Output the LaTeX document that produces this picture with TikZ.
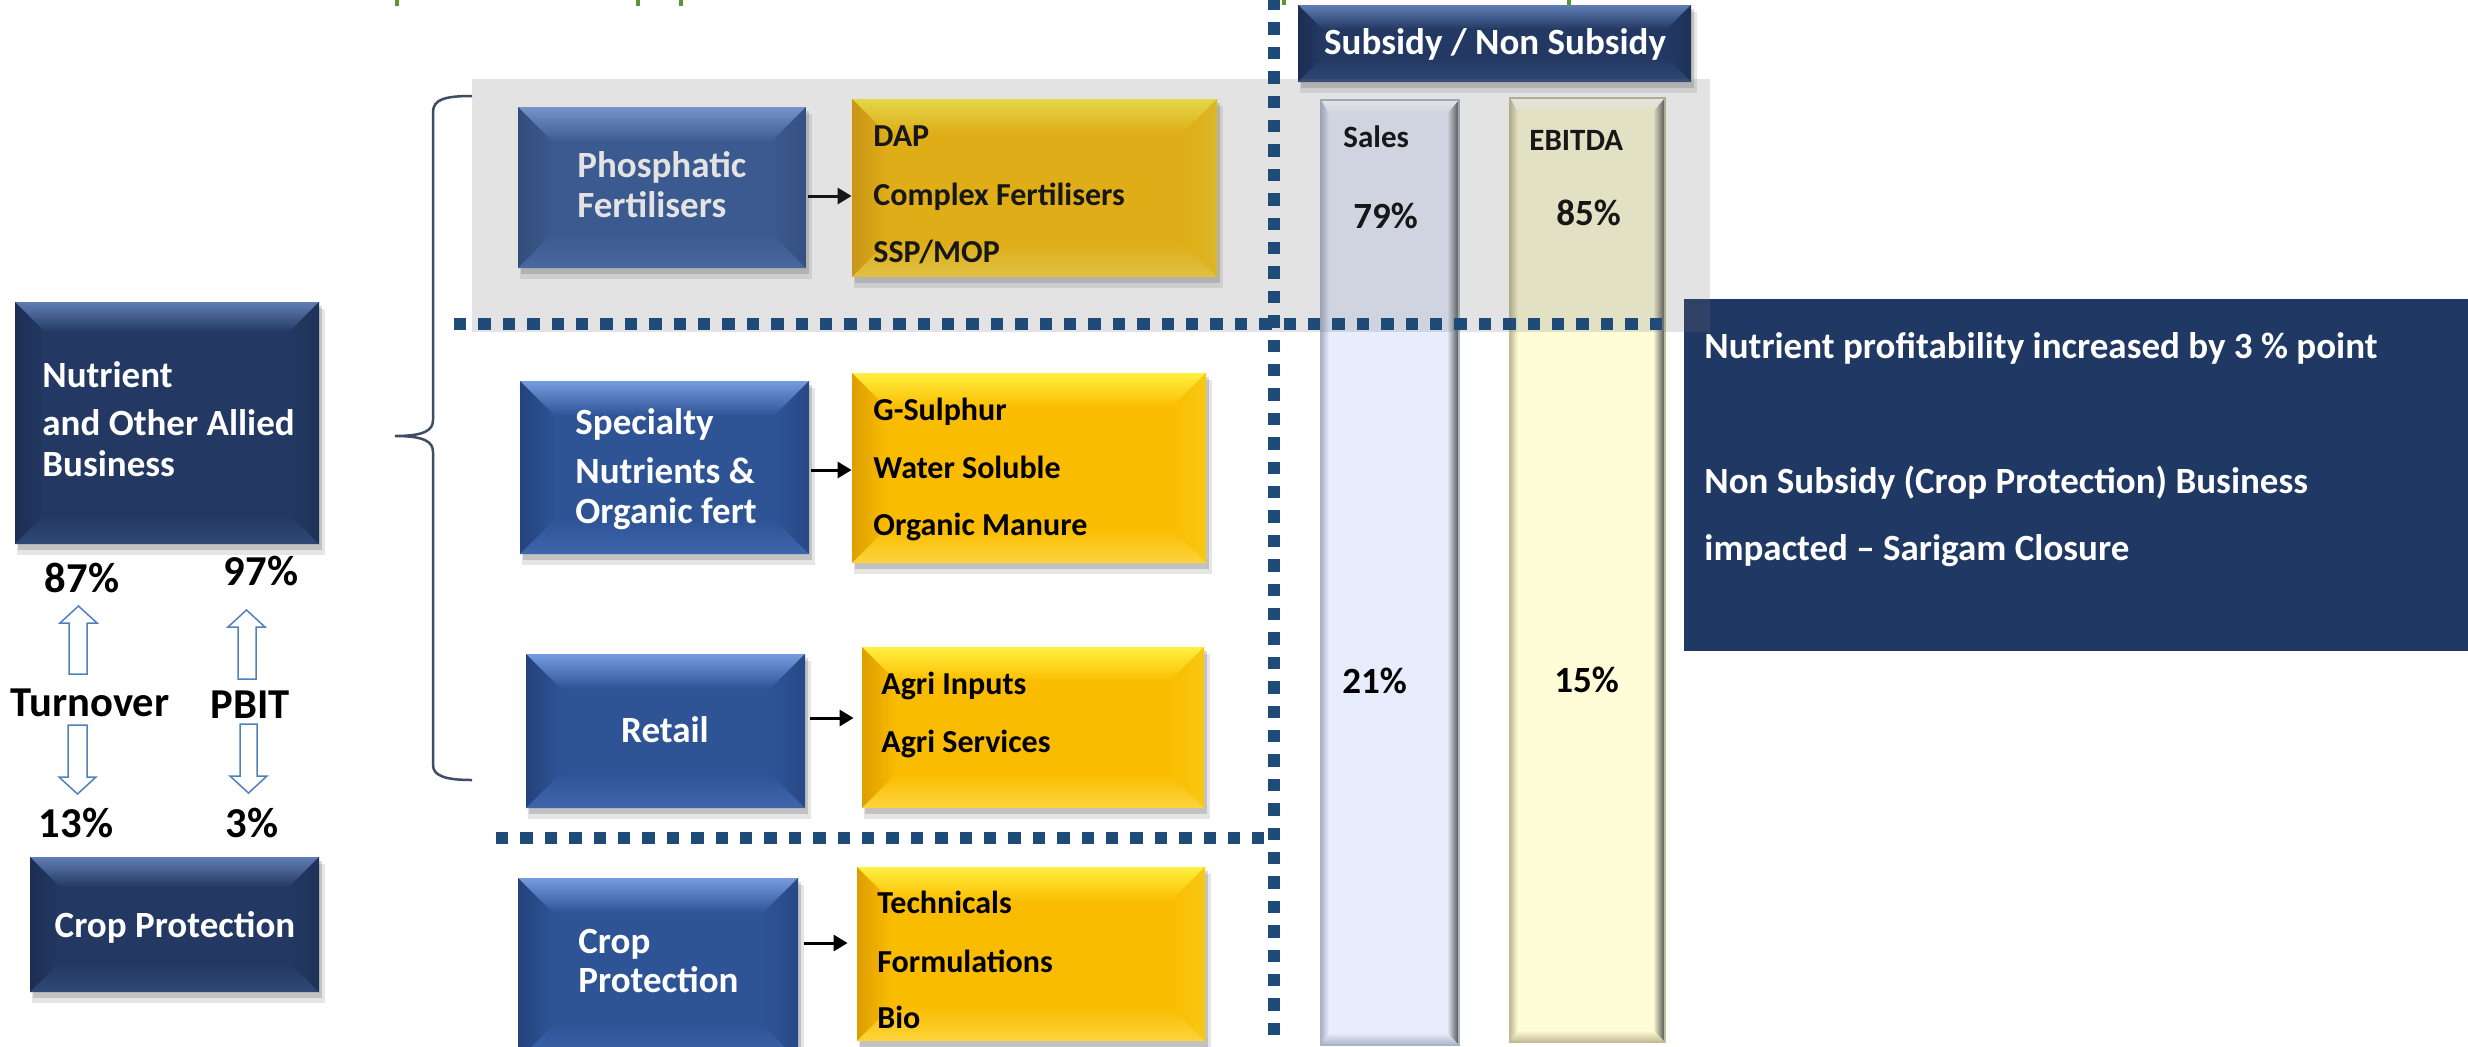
\documentclass[tikz,border=0pt]{standalone}
\usepackage{fontspec}
\setmainfont{Carlito}
\usetikzlibrary{fit,arrows.meta,calc}
\definecolor{blubase}{RGB}{46,84,150}
\definecolor{blutop}{RGB}{118,156,224}
\definecolor{bluleft}{RGB}{36,66,124}
\definecolor{bluright}{RGB}{40,72,134}
\definecolor{blubot}{RGB}{62,102,172}
\definecolor{navbase}{RGB}{35,57,99}
\definecolor{navtop}{RGB}{96,126,180}
\definecolor{navleft}{RGB}{28,46,82}
\definecolor{navright}{RGB}{30,50,88}
\definecolor{navbot}{RGB}{46,72,118}
\definecolor{yelbase}{RGB}{250,188,0}
\definecolor{yeltop}{RGB}{255,240,64}
\definecolor{yelleft}{RGB}{222,158,0}
\definecolor{yelright}{RGB}{248,200,20}
\definecolor{yelbot}{RGB}{252,212,60}
\definecolor{panelcol}{RGB}{32,56,100}
\definecolor{dotblue}{RGB}{31,75,120}
\definecolor{bracecol}{RGB}{62,76,100}
\definecolor{arrowblue}{RGB}{79,129,189}
\definecolor{salesfill}{RGB}{231,237,252}
\definecolor{salesedge}{RGB}{170,178,198}
\definecolor{ebitfill}{RGB}{255,253,215}
\definecolor{ebitedge}{RGB}{196,188,150}
\definecolor{greenmark}{RGB}{90,150,50}
\newcommand\bevelbox[7]{%
  \fill[black,opacity=.10] (#2+2,#3+7) rectangle (#4+6,#5+11);
  \fill[black,opacity=.15] (#2+3,#3+4) rectangle (#4+3,#5+6);
  \fill[#6base] (#2,#3) rectangle (#4,#5);
  \shade[top color=#6top,bottom color=#6base] (#2,#3) -- (#4,#3) -- (#4-#7,#3+#7) -- (#2+#7,#3+#7) -- cycle;
  \shade[left color=#6left,right color=#6base] (#2,#3) -- (#2+#7,#3+#7) -- (#2+#7,#5-#7) -- (#2,#5) -- cycle;
  \shade[left color=#6base,right color=#6right] (#4,#3) -- (#4-#7,#3+#7) -- (#4-#7,#5-#7) -- (#4,#5) -- cycle;
  \shade[top color=#6base,bottom color=#6bot] (#2,#5) -- (#2+#7,#5-#7) -- (#4-#7,#5-#7) -- (#4,#5) -- cycle;
  \node[fit={(#2,#3) (#4,#5)},inner sep=0pt] (#1) {};
}
\newcommand\barcol[7]{%
  \fill[#6] (#2,#3) rectangle (#4,#5);
  \shade[top color=white,bottom color=#6] (#2,#3) -- (#4,#3) -- (#4-12,#3+14) -- (#2+8,#3+14) -- cycle;
  \shade[left color=#7,right color=#6] (#2,#3) -- (#2+8,#3+14) -- (#2+8,#5-12) -- (#2,#5) -- cycle;
  \shade[left color=#6,right color=black!70] (#4,#3) -- (#4-12,#3+14) -- (#4-12,#5-12) -- (#4,#5) -- cycle;
  \shade[top color=#6,bottom color=#7] (#2,#5) -- (#2+8,#5-12) -- (#4-12,#5-12) -- (#4,#5) -- cycle;
  \draw[#7,line width=0.6pt] (#2,#3) rectangle (#4,#5);
  \node[fit={(#2,#3) (#4,#5)},inner sep=0pt] (#1) {};
}
\tikzset{
  wt/.style={text=white,inner sep=0pt,font=\fontsize{18.5pt}{22pt}\selectfont\bfseries},
  bk/.style={text=black,inner sep=0pt,font=\fontsize{16pt}{19pt}\selectfont\bfseries},
  lab/.style={text=black,inner sep=0pt,font=\fontsize{21.3pt}{25pt}\selectfont\bfseries},
  bartxt/.style={text=black,inner sep=0pt,font=\fontsize{15.5pt}{18pt}\selectfont\bfseries},
  barpct/.style={text=black,inner sep=0pt,font=\fontsize{18.5pt}{22pt}\selectfont\bfseries},
  blockarrow/.style={draw=arrowblue,fill=white,line width=0.75pt,line join=miter},
  conn/.style={black,line width=1.5pt,-{Triangle[length=7pt,width=8pt]}},
  dotln/.style={dotblue,line width=6pt,dash pattern=on 6.2pt off 6pt},
  bracestyle/.style={bracecol,line width=1.25pt}
}
\begin{document}
\begin{tikzpicture}[x=0.5pt,y=-0.5pt]
\useasboundingbox (0,0) rectangle (2468,1046);
\fill[white] (0,0) rectangle (2468,1046);
% green fragments of cut-off title
\fill[greenmark] (395,0) rectangle (399,6);
\fill[greenmark] (636,0) rectangle (640,6);
\fill[greenmark] (679,0) rectangle (683,6);
\fill[greenmark] (1282,0) rectangle (1286,5);
\fill[greenmark] (1567,0) rectangle (1571,6);
% right panel
\fill[panelcol] (1684,299) rectangle (2468,651);
\node[fit={(1684,299) (2468,651)},inner sep=0pt] (panel) {};
% bars
\barcol{sales}{1321}{100}{1459}{1045}{salesfill}{salesedge}
\barcol{ebitda}{1510}{98}{1665}{1042}{ebitfill}{ebitedge}
% left boxes
\bevelbox{nutrient}{15}{302}{319}{544}{nav}{30}
\bevelbox{cropL}{30}{857}{319}{992}{nav}{30}
% header
\bevelbox{header}{1298}{5}{1691}{82}{nav}{24}
% middle boxes
\bevelbox{phos}{518}{107}{806}{268}{blu}{35}
\bevelbox{yel1}{852}{99}{1217}{277}{yel}{35}
\bevelbox{spec}{520}{381}{809}{554}{blu}{35}
\bevelbox{yel2}{852}{373}{1206}{563}{yel}{35}
\bevelbox{retail}{526}{654}{805}{808}{blu}{35}
\bevelbox{yel3}{862}{647}{1204}{808}{yel}{35}
\bevelbox{cropM}{518}{878}{798}{1060}{blu}{35}
\bevelbox{yel4}{857}{867}{1205}{1041}{yel}{35}
% block arrows
\draw[blockarrow] (78.5,606) -- (97,623) -- (87,623) -- (87,674) -- (69,674) -- (69,623) -- (60,623) -- cycle;
\draw[blockarrow] (68,725) -- (87,725) -- (87,777) -- (96,777) -- (77.5,794) -- (59,777) -- (68,777) -- cycle;
\draw[blockarrow] (246.5,610) -- (265,627) -- (256,627) -- (256,679) -- (238,679) -- (238,627) -- (228,627) -- cycle;
\draw[blockarrow] (240,724) -- (257,724) -- (257,776) -- (267,776) -- (248.5,793) -- (230,776) -- (240,776) -- cycle;
% brace
\draw[bracestyle] (472,96) .. controls (446,96) and (433,99) .. (433,112) -- (433,420) .. controls (433,430) and (425,436) .. (395,436) .. controls (425,436) and (433,442) .. (433,452) -- (433,765) .. controls (433,776) and (446,780) .. (472,780);
% texts left panel
\node[wt,anchor=base west] (tN1) at (42,387) {Nutrient};
\node[wt,anchor=base west] (tN2) at (42,435) {and Other Allied};
\node[wt,anchor=base west] (tN3) at (42,476) {Business};
\node[wt,anchor=base] (tCL) at (175,937) {Crop Protection};
\node[lab,anchor=base] (p87) at (82,592) {87\%};
\node[lab,anchor=base] (p97) at (261,585) {97\%};
\node[lab,anchor=base] (tTurn) at (90,716) {Turnover};
\node[lab,anchor=base] (tPBIT) at (250,718) {PBIT};
\node[lab,anchor=base] (p13) at (76,837) {13\%};
\node[lab,anchor=base] (p3) at (252,837) {3\%};
% texts middle
\node[wt,anchor=base west] (tP1) at (577,177) {Phosphatic};
\node[wt,anchor=base west] (tP2) at (577,217) {Fertilisers};
\node[wt,anchor=base west] (tS1) at (575,434) {Specialty};
\node[wt,anchor=base west] (tS2) at (575,483) {Nutrients \&};
\node[wt,anchor=base west] (tS3) at (575,523) {Organic fert};
\node[wt,anchor=base] (tR) at (665,742) {Retail};
\node[wt,anchor=base west] (tC1) at (578,953) {Crop};
\node[wt,anchor=base west] (tC2) at (578,992) {Protection};
\node[bk,anchor=base west] (y11) at (873,146) {DAP};
\node[bk,anchor=base west] (y12) at (873,205) {Complex Fertilisers};
\node[bk,anchor=base west] (y13) at (873,262) {SSP/MOP};
\node[bk,anchor=base west] (y21) at (873,420) {G-Sulphur};
\node[bk,anchor=base west] (y22) at (873,478) {Water Soluble};
\node[bk,anchor=base west] (y23) at (873,535) {Organic Manure};
\node[bk,anchor=base west] (y31) at (881,694) {Agri Inputs};
\node[bk,anchor=base west] (y32) at (881,752) {Agri Services};
\node[bk,anchor=base west] (y41) at (877,913) {Technicals};
\node[bk,anchor=base west] (y42) at (877,972) {Formulations};
\node[bk,anchor=base west] (y43) at (877,1028) {Bio};
% right side texts
\node[wt,anchor=base] (tHead) at (1495,54) {Subsidy / Non Subsidy};
\node[bartxt,anchor=base west] (tSales) at (1343,147) {Sales};
\node[bartxt,anchor=base west] (tEbit) at (1529,150) {EBITDA};
\node[barpct,anchor=base west] (p79) at (1353,228) {79\%};
\node[barpct,anchor=base west] (p85) at (1556,225) {85\%};
\node[barpct,anchor=base west] (p21) at (1342,693) {21\%};
\node[barpct,anchor=base west] (p15) at (1554,692) {15\%};
\node[wt,anchor=base west] (r1) at (1704,358) {Nutrient profitability increased by 3 \% point};
\node[wt,anchor=base west] (r2) at (1704,493) {Non Subsidy (Crop Protection) Business};
\node[wt,anchor=base west] (r3) at (1704,560) {impacted \textendash{} Sarigam Closure};
% connectors
\coordinate (a1) at ([yshift=-4.25pt]phos.east);
\draw[conn,shorten <=1pt] (a1) -- (yel1.west |- a1);
\coordinate (a2) at ([yshift=-1.25pt]spec.east);
\draw[conn,shorten <=1pt] (a2) -- (yel2.west |- a2);
\coordinate (a3) at ([yshift=6.5pt]retail.east);
\draw[conn,shorten <=2.5pt,shorten >=4pt] (a3) -- (yel3.west |- a3);
\coordinate (a4) at ([yshift=13pt]cropM.east);
\draw[conn,shorten <=3pt,shorten >=4.5pt] (a4) -- (yel4.west |- a4);
% translucent grey band
\fill[black!55,opacity=0.2] (472,79) rectangle (1710,332);
% dotted separators
\draw[dotln] (1274,-2) -- (1274,1050);
\draw[dotln] (454,324) -- (1662,324);
\draw[dotln] (496,838) -- (1264,838);
\end{tikzpicture}
\end{document}
